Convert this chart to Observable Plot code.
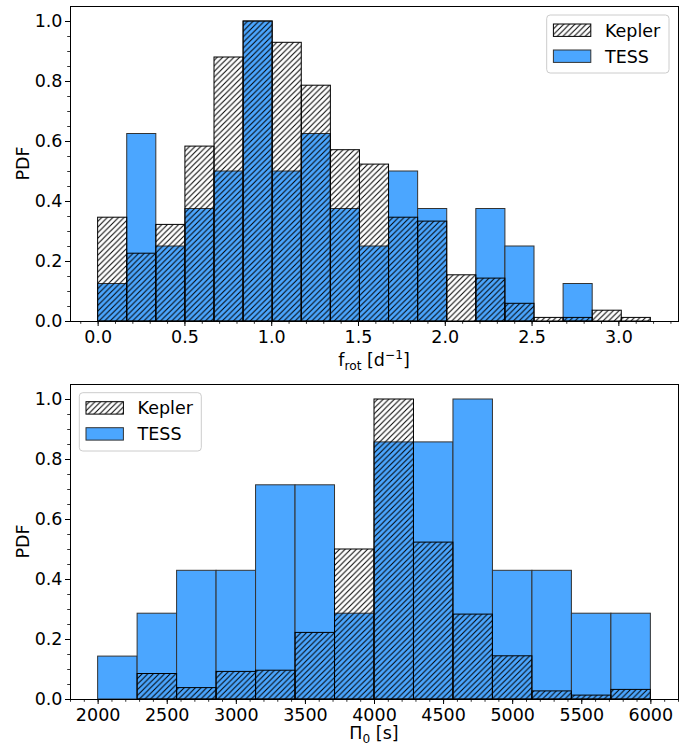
<!DOCTYPE html>
<html><head><meta charset="utf-8">
<script src="https://cdn.jsdelivr.net/npm/d3@7"></script>
<script src="https://cdn.jsdelivr.net/npm/@observablehq/plot@0.6"></script>
<style>
body{margin:0;background:#fff;}
#chart{width:692px;}
#chart svg{display:block;}
#chart svg, #chart svg text, #chart svg tspan{font-family:"DejaVu Sans", sans-serif !important;}
</style></head><body><div id="chart"></div>
<script>
// ---- data ----
const seriesNames = ["Kepler", "TESS"];
const tessColor = "#4BA6FF";

// top panel: f_rot [d^-1], 19 bins from 0
const frotStart = 0;
const frotBinWidth = 0.1676;
const keplerFrot = [0.346, 0.226, 0.322, 0.583, 0.880, 1.000, 0.929, 0.786, 0.571, 0.523, 0.346, 0.333, 0.154, 0.143, 0.059, 0.012, 0.012, 0.036, 0.012];
const tessFrot   = [0.125, 0.625, 0.250, 0.375, 0.500, 1.000, 0.500, 0.625, 0.375, 0.250, 0.500, 0.375, 0.000, 0.375, 0.250, 0.000, 0.125, 0.000, 0.000];
const frotTicks = [0, 0.5, 1.0, 1.5, 2.0, 2.5, 3.0];

// bottom panel: Pi_0 [s], 14 bins from 2000 to 6000
const piStart = 2000;
const piBinWidth = 4000 / 14;
const keplerPi = [0.000, 0.085, 0.038, 0.092, 0.096, 0.222, 0.500, 1.000, 0.523, 0.283, 0.144, 0.027, 0.013, 0.032];
const tessPi   = [0.143, 0.286, 0.429, 0.429, 0.714, 0.714, 0.286, 0.857, 0.857, 1.000, 0.429, 0.429, 0.286, 0.286];
const piTicks = [2000, 2500, 3000, 3500, 4000, 4500, 5000, 5500, 6000];

const yTicks = [0, 0.2, 0.4, 0.6, 0.8, 1.0];

// ---- helpers ----
const W = 692;
const FS = 17.5;
const FONT = "DejaVu Sans";
function bins(values, start, w) {
  return values.map((v, i) => ({x1: start + i * w, x2: start + (i + 1) * w, y: v}));
}
function addHatch(svg, id) {
  const s = 5.6;
  const defs = d3.select(svg).insert("defs", ":first-child");
  const p = defs.append("pattern").attr("id", id)
    .attr("patternUnits", "userSpaceOnUse").attr("width", s).attr("height", s);
  p.append("path")
    .attr("d", `M0,${s} L${s},0 M${-s/2},${s/2} L${s/2},${-s/2} M${s/2},${s*1.5} L${s*1.5},${s/2}`)
    .attr("stroke", "black").attr("stroke-width", 1).attr("fill", "none");
}

function panel(o) {
  const kData = bins(o.kepler, o.start, o.w);
  const tData = bins(o.tess, o.start, o.w);
  const lo = o.start, hi = o.start + o.w * o.kepler.length;
  const pad = (hi - lo) * 0.05;
  const xDomain = [lo - pad, hi + pad];
  const minorX = d3.range(Math.ceil(xDomain[0] / o.minorStep - 1e-9), Math.floor(xDomain[1] / o.minorStep + 1e-9) + 1).map(k => +(k * o.minorStep).toFixed(6));
  const minorY = d3.range(0, 21).map(k => +(k * 0.05).toFixed(3));
  const hatchId = "hatch-" + o.id;
  const svg = Plot.plot({
    width: W, height: o.height,
    marginLeft: 70, marginRight: 14, marginTop: o.marginTop, marginBottom: o.marginBottom,
    style: {fontFamily: FONT, fontSize: FS + "px", background: "white", color: "black", overflow: "visible"},
    x: {domain: xDomain},
    y: {domain: [0, 1.05]},
    marks: [
      Plot.rectY(tData, {x1: "x1", x2: "x2", y1: 0, y2: "y", fill: tessColor, stroke: "#333", strokeWidth: 1}),
      Plot.rectY(kData, {x1: "x1", x2: "x2", y1: 0, y2: "y", fill: `url(#${hatchId})`, stroke: "black", strokeWidth: 1}),
      Plot.axisX(minorX, {tickSize: 2.8, tickFormat: () => "", label: null, strokeWidth: 0.8}),
      Plot.axisX(o.ticks, {tickSize: 5, tickPadding: 4, tickFormat: o.fmt, label: null, strokeWidth: 1, fontSize: FS}),
      Plot.axisY(minorY, {tickSize: 2.8, tickFormat: () => "", label: null, strokeWidth: 0.8}),
      Plot.axisY(yTicks, {tickSize: 5, tickPadding: 3, tickFormat: d3.format(".1f"), label: null, strokeWidth: 1, fontSize: FS}),
      Plot.frame({stroke: "black", strokeWidth: 1})
    ]
  });
  svg.setAttribute("font-family", FONT);
  svg.setAttribute("font-size", FS);
  addHatch(svg, hatchId);
  const g = d3.select(svg);
  const frameTop = o.marginTop, frameBottom = o.height - o.marginBottom;
  const cx = 70 + (W - 70 - 14) / 2;
  // y label
  g.append("text").attr("transform", `translate(29,${(frameTop + frameBottom) / 2}) rotate(-90)`)
    .attr("text-anchor", "middle").attr("fill", "black").attr("font-size", FS).text("PDF");
  // x label
  const t = g.append("text").attr("x", cx).attr("y", o.labelY).attr("text-anchor", "middle")
    .attr("fill", "black").attr("font-size", FS);
  o.label(t);
  // legend
  const L = o.legend;
  const lg = g.append("g").attr("text-anchor", "start");
  lg.append("rect").attr("x", L.x).attr("y", L.y).attr("width", L.w).attr("height", L.h)
    .attr("rx", 3.5).attr("fill", "white").attr("fill-opacity", 0.8).attr("stroke", "#cccccc").attr("stroke-width", 1);
  const fills = [`url(#${hatchId})`, tessColor];
  const strokes = ["black", "#333"];
  seriesNames.forEach((name, i) => {
    const py = L.y + 9 + i * 26;
    lg.append("rect").attr("x", L.x + 6.7).attr("y", py).attr("width", 37.4).attr("height", 12.4)
      .attr("fill", fills[i]).attr("stroke", strokes[i]).attr("stroke-width", 1);
    lg.append("text").attr("x", L.x + 58.3).attr("y", py + 12.6).attr("fill", "black")
      .attr("text-anchor", "start").attr("font-size", FS).text(name);
  });
  return svg;
}

const topPanel = panel({
  id: "top", kepler: keplerFrot, tess: tessFrot, start: frotStart, w: frotBinWidth,
  ticks: frotTicks, minorStep: 0.1, fmt: d3.format(".1f"),
  height: 368, marginTop: 6, marginBottom: 47, labelY: 366,
  legend: {x: 546.7, y: 15, w: 122.3, h: 58},
  label: t => {
    t.append("tspan").text("f");
    t.append("tspan").attr("font-size", 12.2).attr("dy", 4).text("rot");
    t.append("tspan").attr("dy", -4).text(" [d");
    t.append("tspan").attr("font-size", 12.2).attr("dy", -7).text("\u22121");
    t.append("tspan").attr("dy", 7).text("]");
  }
});
const bottomPanel = panel({
  id: "bot", kepler: keplerPi, tess: tessPi, start: piStart, w: piBinWidth,
  ticks: piTicks, minorStep: 100, fmt: d3.format("d"),
  height: 377, marginTop: 16, marginBottom: 46, labelY: 371,
  legend: {x: 79.3, y: 24.7, w: 122, h: 58.3},
  label: t => {
    t.append("tspan").text("\u03A0");
    t.append("tspan").attr("font-size", 12.2).attr("dy", 3.5).text("0");
    t.append("tspan").attr("dy", -3.5).text(" [s]");
  }
});
document.getElementById("chart").append(topPanel, bottomPanel);
</script>
</body></html>
